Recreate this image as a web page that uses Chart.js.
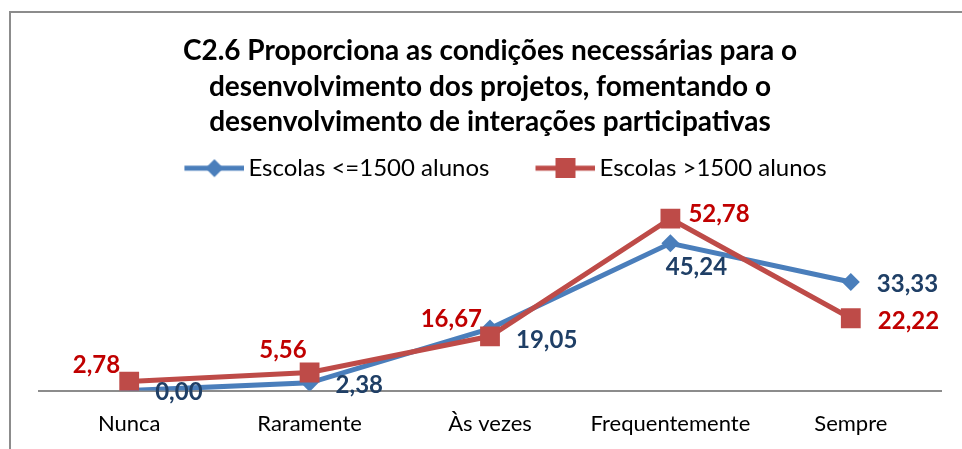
<!DOCTYPE html>
<html lang="pt">
<head>
<meta charset="utf-8">
<title>C2.6</title>
<script src="https://cdn.jsdelivr.net/npm/chart.js@4.4.1/dist/chart.umd.min.js"></script>
<style>
    html, body { margin: 0; padding: 0; background: #fff; }
    canvas { display: block; }
</style>
</head>
<body>
<canvas id="chart" width="962" height="449"></canvas>
<script>
// Respostas à questão C2.6 (%)
const categories = ['Nunca', 'Raramente', 'Às vezes', 'Frequentemente', 'Sempre'];
const smallSchools = [0.00, 2.38, 19.05, 45.24, 33.33];
const largeSchools = [2.78, 5.56, 16.67, 52.78, 22.22];
const seriesNames = ['Escolas <=1500 alunos', 'Escolas >1500 alunos'];
const titleLines = [
    'C2.6 Proporciona as condições necessárias para o',
    'desenvolvimento dos projetos, fomentando o',
    'desenvolvimento de interações participativas'
];

const BLUE = '#4A7EBB';
const RED = '#BE4B48';
const FONT = 'Lato, "Liberation Sans", sans-serif';

// where each value label sits relative to its point: [textAlign, dx, dy]
const labelPlacement = [
    { color: '#1F3F66', spots: [['left', 26, 2], ['left', 26, 2], ['left', 26, 12], ['center', 26, 24], ['left', 26, 2]] },
    { color: '#C00000', spots: [['right', -9, -16], ['right', -3, -22], ['right', -8, -17], ['left', 18, -4], ['left', 27, 3]] }
];

// legend symbol: line segment with the series marker, drawn on the right
// part of a wider transparent canvas so the items get spaced apart
const SYMBOL_BOX = 83;
function legendSymbol(color, shape) {
    const c = document.createElement('canvas');
    c.width = SYMBOL_BOX + 16;
    c.height = 20;
    const g = c.getContext('2d');
    const x0 = c.width - 60;
    g.strokeStyle = color;
    g.lineWidth = 5;
    g.beginPath();
    g.moveTo(x0, 10);
    g.lineTo(x0 + 60, 10);
    g.stroke();
    g.fillStyle = color;
    g.beginPath();
    if (shape === 'diamond') {
        g.moveTo(x0 + 30, 1);
        g.lineTo(x0 + 39, 10);
        g.lineTo(x0 + 30, 19);
        g.lineTo(x0 + 21, 10);
    } else {
        g.rect(x0 + 20, 0, 20, 20);
    }
    g.closePath();
    g.fill();
    return c;
}

const framePlugin = {
    id: 'frame',
    beforeDraw(chart) {
        const ctx = chart.ctx;
        ctx.save();
        ctx.fillStyle = '#fff';
        ctx.fillRect(0, 0, chart.width, chart.height);
        ctx.strokeStyle = '#8C8C8C';
        ctx.lineWidth = 2;
        ctx.beginPath();
        ctx.moveTo(10, chart.height);
        ctx.lineTo(10, 12);
        ctx.lineTo(chart.width, 12);
        ctx.stroke();
        ctx.restore();
    }
};

// a bit of extra room under the legend before the plot starts
const legendGap = {
    id: 'legendGap',
    beforeLayout(chart) {
        const legend = chart.legend;
        if (legend && !legend._gapAdded) {
            const fit = legend.fit;
            legend.fit = function () {
                fit.call(this);
                this.height += 5;
            };
            legend._gapAdded = true;
        }
    }
};

const valueLabels = {
    id: 'valueLabels',
    afterDatasetsDraw(chart) {
        const ctx = chart.ctx;
        ctx.save();
        ctx.font = 'bold 24px ' + FONT;
        ctx.textBaseline = 'middle';
        chart.data.datasets.forEach((ds, i) => {
            const meta = chart.getDatasetMeta(i);
            const place = labelPlacement[i];
            ctx.fillStyle = place.color;
            meta.data.forEach((pt, j) => {
                const [align, dx, dy] = place.spots[j];
                ctx.textAlign = align;
                ctx.fillText(ds.data[j].toFixed(2).replace('.', ','), pt.x + dx, pt.y + dy);
            });
        });
        ctx.restore();
    }
};

const symbols = [legendSymbol(BLUE, 'diamond'), legendSymbol(RED, 'square')];

new Chart(document.getElementById('chart'), {
    type: 'line',
    data: {
        labels: categories,
        datasets: [
            {
                label: seriesNames[0],
                data: smallSchools,
                borderColor: BLUE,
                backgroundColor: BLUE,
                borderWidth: 5,
                pointStyle: 'rectRot',
                pointRadius: 9,
                pointBorderWidth: 0,
                order: 1
            },
            {
                label: seriesNames[1],
                data: largeSchools,
                borderColor: RED,
                backgroundColor: RED,
                borderWidth: 5,
                pointStyle: 'rect',
                pointRadius: 14,
                pointBorderWidth: 0,
                order: 0
            }
        ]
    },
    options: {
        responsive: false,
        animation: false,
        layout: { padding: { left: 39, right: 21, top: 0, bottom: 0 } },
        plugins: {
            title: {
                display: true,
                text: titleLines,
                color: '#000',
                font: { family: FONT, size: 28, weight: 'bold', lineHeight: 1.27 },
                padding: { top: 33.5, bottom: 1 }
            },
            legend: {
                display: true,
                labels: {
                    usePointStyle: true,
                    pointStyleWidth: SYMBOL_BOX,
                    padding: 15,
                    color: '#000',
                    font: { family: FONT, size: 24 },
                    generateLabels: (chart) => chart.data.datasets.map((ds, i) => ({
                        text: ds.label,
                        pointStyle: symbols[i],
                        fillStyle: ds.borderColor,
                        strokeStyle: ds.borderColor,
                        lineWidth: 0,
                        fontColor: '#000',
                        datasetIndex: i
                    }))
                }
            },
            tooltip: { enabled: false }
        },
        scales: {
            x: {
                offset: true,
                grid: { display: false },
                border: { display: true, color: '#8C8C8C', width: 2 },
                ticks: { color: '#000', padding: 12, font: { family: FONT, size: 22 } }
            },
            y: {
                display: false,
                min: 0,
                max: 60
            }
        }
    },
    plugins: [framePlugin, legendGap, valueLabels]
});
</script>
</body>
</html>
